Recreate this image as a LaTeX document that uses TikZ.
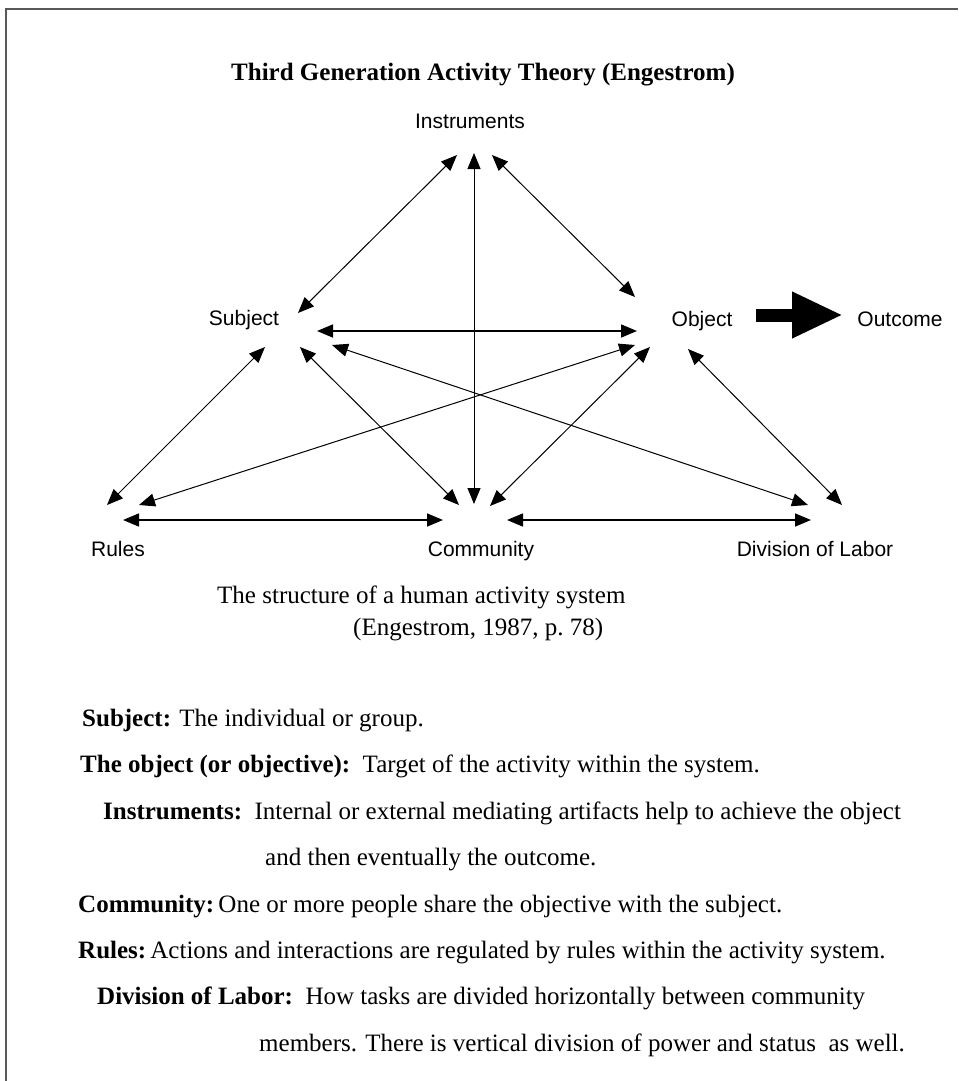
\documentclass[tikz,border=0pt]{standalone}
\usepackage{fontspec}
\setmainfont{Liberation Serif}
\newfontfamily\labelfont{Liberation Sans}
\usetikzlibrary{arrows.meta}

\begin{document}
\begin{tikzpicture}[
  x=1pt, y=-1pt,
  apex/.style={font=\labelfont\fontsize{21}{25}\selectfont, anchor=base, inner sep=0pt},
  link/.style={{Triangle[length=16pt,width=13pt]}-{Triangle[length=16pt,width=13pt]}, line width=1pt},
  flat/.style={link, line width=1.6pt},
  defn/.style={font=\fontsize{25}{30}\selectfont, anchor=base west, inner sep=0pt}
]
  \useasboundingbox (0,0) rectangle (958,1081);
  \draw[line width=2pt, black!65] (6,1081) -- (6,9) -- (958,9);

  \node[font=\bfseries\fontsize{25}{30}\selectfont, anchor=base, inner sep=0pt] (title) at (483,81)
    {Third Generation Activity Theory (Engestrom)};

  \node[apex] (instr) at (470,128) {Instruments};
  \node[apex] (subj) at (244,325) {Subject};
  \node[apex] (obj) at (702,326) {Object};
  \node[apex] (outc) at (900,326) {Outcome};
  \node[apex] (rules) at (118,556) {Rules};
  \node[apex] (comm) at (481,556) {Community};
  \node[apex] (div) at (815,556) {Division of Labor};

  \coordinate (i-s) at (457,155);
  \coordinate (i-c) at (474,153);
  \coordinate (i-o) at (492,155);
  \coordinate (s-i) at (298,313);
  \coordinate (s-o) at (317,331);
  \coordinate (s-r) at (265,347);
  \coordinate (s-c) at (300,347);
  \coordinate (s-d) at (332,345);
  \coordinate (o-i) at (635,297);
  \coordinate (o-s) at (637,331);
  \coordinate (o-r) at (635,345);
  \coordinate (o-c) at (650,347);
  \coordinate (o-d) at (688,349);
  \coordinate (r-s) at (107,505);
  \coordinate (r-o) at (139,505);
  \coordinate (r-c) at (123,520);
  \coordinate (c-s) at (459,505);
  \coordinate (c-i) at (474,504);
  \coordinate (c-o) at (490,506);
  \coordinate (c-r) at (443,520);
  \coordinate (c-d) at (507,520);
  \coordinate (d-s) at (808,505);
  \coordinate (d-o) at (842,505);
  \coordinate (d-c) at (811,520);
  \coordinate (out-a) at (756,315);
  \coordinate (out-b) at (843,315);

  \draw[link] (i-s) -- (s-i);
  \draw[link] (i-c) -- (c-i);
  \draw[link] (i-o) -- (o-i);
  \draw[flat] (s-o) -- (o-s);
  \draw[link] (s-r) -- (r-s);
  \draw[link] (s-c) -- (c-s);
  \draw[link] (s-d) -- (d-s);
  \draw[link] (o-r) -- (r-o);
  \draw[link] (o-c) -- (c-o);
  \draw[link] (o-d) -- (d-o);
  \draw[flat] (r-c) -- (c-r);
  \draw[flat] (c-d) -- (d-c);
  \draw[line width=13pt, -{Triangle[length=51pt,width=43pt]}] (out-a) -- (out-b);

  \node[defn] (caption) at (217,603) {The structure of a human activity system};
  \node[defn] (source) at (353,635) {(Engestrom, 1987, p.~78)};

  \node[defn] (d-subj) at (82,726) {\textbf{Subject:} The individual or group.};
  \node[defn] (d-obj) at (80,772) {\textbf{The object (or objective):}~~Target of the activity within the system.};
  \node[defn] (d-instr) at (103,819) {\textbf{Instruments:}~~Internal or external mediating artifacts help to achieve the object};
  \node[defn] (d-instr2) at (265,865) {and then eventually the outcome.};
  \node[defn] (d-comm) at (78,912) {\textbf{Community:}\,One or more people share the objective with the subject.};
  \node[defn] (d-rules) at (78,958) {\textbf{Rules:}\,Actions and interactions are regulated by rules within the activity system.};
  \node[defn] (d-div) at (97,1004) {\textbf{Division of Labor:}~~How tasks are divided horizontally between community};
  \node[defn] (d-div2) at (259,1051) {members. There is vertical division of power and status~~as well.};
\end{tikzpicture}
\end{document}
